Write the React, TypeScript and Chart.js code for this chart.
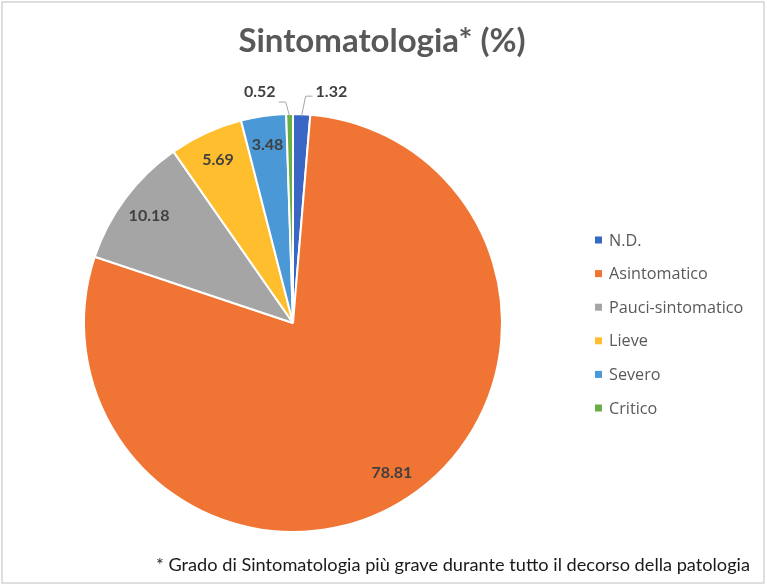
import React, { useEffect, useRef } from "react";
import { Chart, registerables } from "chart.js";

Chart.register(...registerables);

const categories = ["N.D.", "Asintomatico", "Pauci-sintomatico", "Lieve", "Severo", "Critico"];
const values = [1.32, 78.81, 10.18, 5.69, 3.48, 0.52];
const colors = ["#3A67C4", "#F07534", "#A5A5A5", "#FFBE2E", "#4A98D6", "#6AAE46"];
const titleText = "Sintomatologia* (%)";
const footnoteText = "* Grado di Sintomatologia più grave durante tutto il decorso della patologia";

const W = 767;
const H = 586;

const decorPlugin = {
  id: "decor",
  beforeDraw(chart: any) {
    const ctx = chart.ctx;
    ctx.save();
    ctx.fillStyle = "#ffffff";
    ctx.fillRect(0, 0, W, H);
    ctx.strokeStyle = "#d4d4d4";
    ctx.lineWidth = 1.5;
    ctx.strokeRect(2, 2, 762, 581);
    ctx.restore();
  },
  afterDraw(chart: any) {
    const ctx = chart.ctx;
    ctx.save();
    // title
    ctx.fillStyle = "#595959";
    ctx.font = "bold 33px Lato";
    ctx.textAlign = "center";
    ctx.textBaseline = "middle";
    ctx.fillText(titleText, 382, 41);
    // footnote
    ctx.fillStyle = "#1a1a1a";
    ctx.font = "18.2px Lato";
    ctx.textAlign = "right";
    ctx.fillText(footnoteText, 750, 565);
    // legend
    ctx.font = "16.2px 'Open Sans'";
    ctx.textAlign = "left";
    categories.forEach((c, i) => {
      const y = 240 + i * 33.6;
      ctx.fillStyle = colors[i];
      ctx.fillRect(595, y - 3.5, 7, 7);
      ctx.fillStyle = "#595959";
      ctx.fillText(c, 609, y + 1);
    });
    ctx.restore();
  },
};

const labelPlugin = {
  id: "sliceLabels",
  afterDatasetsDraw(chart: any) {
    const ctx = chart.ctx;
    const meta = chart.getDatasetMeta(0);
    ctx.save();
    ctx.font = "bold 16px Lato";
    ctx.textBaseline = "middle";
    meta.data.forEach((arc: any, i: number) => {
      const { x, y, startAngle, endAngle, outerRadius } = arc.getProps(
        ["x", "y", "startAngle", "endAngle", "outerRadius"],
        true
      );
      const mid = (startAngle + endAngle) / 2;
      const txt = values[i].toFixed(2);
      if (values[i] >= 2) {
        const r = outerRadius * 0.86;
        ctx.fillStyle = "#404040";
        ctx.textAlign = "center";
        ctx.fillText(txt, x + Math.cos(mid) * r, y + Math.sin(mid) * r);
      } else {
        const side = Math.cos(mid) >= 0 ? 1 : -1;
        const x0 = x + Math.cos(mid) * (outerRadius - 2);
        const y0 = y + Math.sin(mid) * (outerRadius - 2);
        const rise = side > 0 ? 20 : 14;
        const x1 = x0 + side * 4;
        const y1 = y0 - rise;
        const x2 = x1 + side * 7;
        ctx.strokeStyle = "#a6a6a6";
        ctx.lineWidth = 1;
        ctx.beginPath();
        ctx.moveTo(x0, y0);
        ctx.lineTo(x1, y1);
        ctx.lineTo(x2, y1);
        ctx.stroke();
        ctx.fillStyle = "#404040";
        ctx.textAlign = side > 0 ? "left" : "right";
        ctx.fillText(txt, x2 + side * 3, y - outerRadius - 22);
      }
    });
    ctx.restore();
  },
};

export default function App() {
  const ref = useRef<HTMLCanvasElement>(null);
  useEffect(() => {
    if (!ref.current) return;
    const chart = new Chart(ref.current, {
      type: "pie",
      data: {
        labels: categories,
        datasets: [
          {
            data: values,
            backgroundColor: colors,
            borderColor: "#ffffff",
            borderWidth: 2,
          },
        ],
      },
      options: {
        responsive: false,
        animation: false,
        devicePixelRatio: 1,
        layout: { padding: { left: 83, top: 113, right: 264, bottom: 53 } },
        plugins: {
          legend: { display: false },
          tooltip: { enabled: false },
          title: { display: false },
        },
      },
      plugins: [decorPlugin, labelPlugin],
    });
    return () => chart.destroy();
  }, []);
  return (
    <div style={{ position: "absolute", left: 0, top: 0, width: W, height: H, background: "#fff" }}>
      <canvas ref={ref} width={W} height={H} style={{ display: "block", width: W, height: H }} />
    </div>
  );
}
